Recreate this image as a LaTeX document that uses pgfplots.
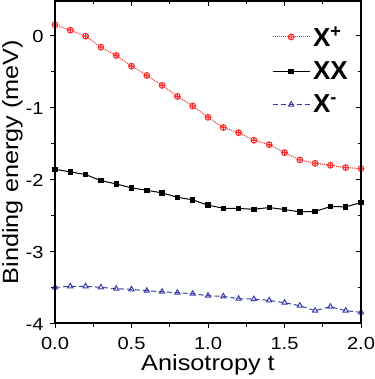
\documentclass[border=0pt]{standalone}
\usepackage{fontspec}
\setmainfont{Liberation Sans}
\newfontfamily\labfont[FakeStretch=1.15]{Liberation Sans}
\usepackage{pgfplots}
\pgfplotsset{compat=1.18}
\definecolor{xplus}{RGB}{255,40,40}
\definecolor{xminus}{RGB}{60,60,170}

\pgfplotstableread{
t xp xx xm
0.0 0.149 -1.861 -3.504
0.1 0.074 -1.898 -3.490
0.2 -0.009 -1.935 -3.490
0.3 -0.162 -2.019 -3.504
0.4 -0.278 -2.065 -3.523
0.5 -0.426 -2.120 -3.532
0.6 -0.556 -2.153 -3.551
0.7 -0.694 -2.190 -3.565
0.8 -0.847 -2.250 -3.579
0.9 -0.981 -2.287 -3.593
1.0 -1.139 -2.361 -3.620
1.1 -1.280 -2.403 -3.630
1.2 -1.352 -2.407 -3.662
1.3 -1.458 -2.417 -3.667
1.4 -1.519 -2.394 -3.685
1.5 -1.630 -2.421 -3.718
1.6 -1.731 -2.454 -3.759
1.7 -1.778 -2.449 -3.829
1.8 -1.806 -2.380 -3.773
1.9 -1.838 -2.384 -3.829
2.0 -1.852 -2.324 -3.852
}\energies

\begin{document}
\begin{tikzpicture}
\pgfplotsset{
  common/.style={
    scale only axis,
    width=306pt, height=322pt,
    xmin=0, xmax=2, ymin=-4, ymax=0.48,
    xtick={0,0.5,...,2}, ytick={-4,-3,...,0},
    minor xtick={0.25,0.75,...,1.75},
    minor ytick={-3.5,-2.5,...,-0.5},
    major tick length=5pt, minor tick length=3.5pt,
    every tick/.style={black, line width=1pt},
    axis line style={line width=1.1pt},
  }
}
\begin{axis}[common,
  xtick pos=bottom, ytick pos=left, tick align=outside,
  /pgf/number format/assume math mode=true,
  ticklabel style={font=\labfont\fontsize{17.5}{20}\selectfont},
  xticklabel style={anchor=north, yshift=-6pt, /pgf/number format/.cd, fixed, fixed zerofill, precision=1},
  yticklabel style={anchor=east, xshift=-3pt, yshift=-1pt},
  xlabel={Anisotropy t}, ylabel={Binding energy (meV)},
  label style={font=\labfont\fontsize{22}{25}\selectfont, inner sep=0pt},
  xlabel style={at={(axis description cs:0.5,-0.146)}, anchor=base},
  ylabel style={at={(axis description cs:-0.105,0.5)}, anchor=south},
  legend style={at={(axis description cs:0.709,0.928)}, anchor=north west, draw=none, fill=none,
    font=\bfseries\fontsize{26}{29}\selectfont, row sep=10pt,
    inner xsep=0pt, inner ysep=0pt, nodes={inner xsep=3pt}},
  legend cell align=left,
  legend image code/.code={\draw[mark repeat=2, mark phase=2, #1] plot coordinates {(0cm,0cm) (0.65cm,0cm) (1.3cm,0cm)};},
]
\addplot[xplus, densely dotted, line width=1pt, mark=oplus, mark size=2.9pt, mark options={solid}] table[x=t, y=xp] {\energies};
\addlegendentry{X\textsuperscript{+}}
\addplot[black, solid, line width=1pt, mark=square*, mark size=2.2pt] table[x=t, y=xx] {\energies};
\addlegendentry{XX}
\addplot[xminus, dash pattern=on 5pt off 3pt, line width=1pt, mark=triangle, mark size=3pt, mark options={solid}] table[x=t, y=xm] {\energies};
\addlegendentry{X\textsuperscript{-}}
\end{axis}
\begin{axis}[common,
  xtick pos=top, ytick pos=right, tick align=inside,
  xticklabels={}, yticklabels={},
]
\end{axis}
\pgfresetboundingbox
\path[use as bounding box] (-55pt,-56pt) rectangle (319pt,323pt);
\end{tikzpicture}
\end{document}
